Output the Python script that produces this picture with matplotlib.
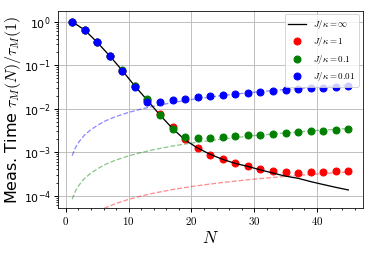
import matplotlib
matplotlib.use("Agg")
import matplotlib.pyplot as plt
from matplotlib.ticker import FuncFormatter, MultipleLocator, LogLocator

plt.rcParams['mathtext.fontset'] = 'cm'

N = [1, 3, 5, 7, 9, 11, 13, 15, 17, 19, 21, 23, 25, 27, 29, 31, 33, 35, 37, 39, 41, 43, 45]

t_inf = [1.0, 0.645, 0.335, 0.163, 0.075, 0.033, 0.0155, 0.0071, 0.0035, 0.0019,
         0.00124, 0.00089, 0.00068, 0.00055, 0.00047, 0.00039, 0.00033, 0.00028,
         0.00025, 0.00021, 0.00018, 0.000155, 0.000135]

t_1 = [1.0, 0.645, 0.335, 0.163, 0.075, 0.033, 0.0155, 0.0074, 0.0037, 0.0020,
       0.00124, 0.00088, 0.00069, 0.00055, 0.00049, 0.00040, 0.00036, 0.00035,
       0.00034, 0.00035, 0.000355, 0.00036, 0.00037]

t_01 = [1.0, 0.645, 0.335, 0.165, 0.076, 0.034, 0.0163, 0.0072, 0.0034, 0.00218,
        0.0021, 0.00217, 0.00229, 0.00236, 0.00245, 0.00254, 0.00268, 0.00278,
        0.00292, 0.0030, 0.00314, 0.00324, 0.00337]

t_001 = [1.0, 0.645, 0.335, 0.163, 0.075, 0.031, 0.0145, 0.0146, 0.0158, 0.0166,
         0.0181, 0.0193, 0.0203, 0.0215, 0.0228, 0.0243, 0.026, 0.027, 0.0285,
         0.0295, 0.0306, 0.0317, 0.0329]

N_ref = [1, 1.5, 2, 2.5, 3, 4, 5, 6, 7, 8, 10, 12, 14, 17, 20, 25, 30, 35, 40, 45]
ref_001 = [0.00083, 0.00125, 0.00166, 0.00207, 0.0025, 0.0033, 0.0041, 0.0050,
           0.0058, 0.0066, 0.0082, 0.0098, 0.0114, 0.0138, 0.0162, 0.0201, 0.0240,
           0.0277, 0.0315, 0.0350]
ref_01 = [0.000083, 0.000125, 0.000166, 0.000207, 0.00025, 0.00033, 0.00041, 0.00050,
          0.00058, 0.00066, 0.00082, 0.00098, 0.00114, 0.00138, 0.00162, 0.00201,
          0.00240, 0.00277, 0.00315, 0.00350]
ref_1 = [0.0000083, 0.0000125, 0.0000166, 0.0000207, 0.000025, 0.000033, 0.000041,
         0.000050, 0.000058, 0.000066, 0.000082, 0.000098, 0.000114, 0.000138,
         0.000162, 0.000201, 0.000240, 0.000277, 0.000315, 0.000350]

labels = [r'$J/\kappa=\infty$', r'$J/\kappa=1$', r'$J/\kappa=0.1$', r'$J/\kappa=0.01$']

fig = plt.figure(figsize=(374/72, 253/72), dpi=72)
ax = fig.add_axes([0.156, 0.178, 0.814, 0.780])

ax.plot(N_ref, ref_1, '--', color='red', alpha=0.45, lw=1.3, zorder=1)
ax.plot(N_ref, ref_01, '--', color='green', alpha=0.45, lw=1.3, zorder=1)
ax.plot(N_ref, ref_001, '--', color='blue', alpha=0.45, lw=1.3, zorder=1)

h1, = ax.plot(N, t_1, 'o', color='red', ms=7, zorder=2, label=labels[1])
h0, = ax.plot(N, t_inf, '-', color='black', lw=1.3, zorder=3, label=labels[0])
h2, = ax.plot(N, t_01, 'o', color='green', ms=7, zorder=4, label=labels[2])
h3, = ax.plot(N, t_001, 'o', color='blue', ms=7, zorder=5, label=labels[3])

ax.set_yscale('log')
ax.set_ylim(5.2e-5, 1.8)
ax.set_xlim(-1.2, 47.3)
ax.xaxis.set_major_locator(MultipleLocator(10))
ax.xaxis.set_minor_locator(MultipleLocator(2))
ax.xaxis.set_major_formatter(FuncFormatter(lambda v, p: r'$%d$' % v))
ax.yaxis.set_minor_locator(LogLocator(base=10, subs=range(2, 10), numticks=20))
ax.tick_params(which='both', direction='out', top=False, right=False, labelsize=11)
ax.tick_params(which='major', length=4, width=1)
ax.tick_params(which='minor', length=2, width=0.8)
ax.grid(True, which='major', color='#bbbbbb', lw=0.9, zorder=0)
ax.set_axisbelow(True)

ax.set_xlabel(r'$N$', fontsize=17, labelpad=2)
ax.set_ylabel(r'Meas. Time $\tau_M(N)/\tau_M(1)$', fontsize=16, labelpad=1)

ax.legend(handles=[h0, h1, h2, h3], loc='upper right', fontsize=9,
          handlelength=2, borderaxespad=0.4, labelspacing=0.5)

fig.savefig('out.png', dpi=72)
